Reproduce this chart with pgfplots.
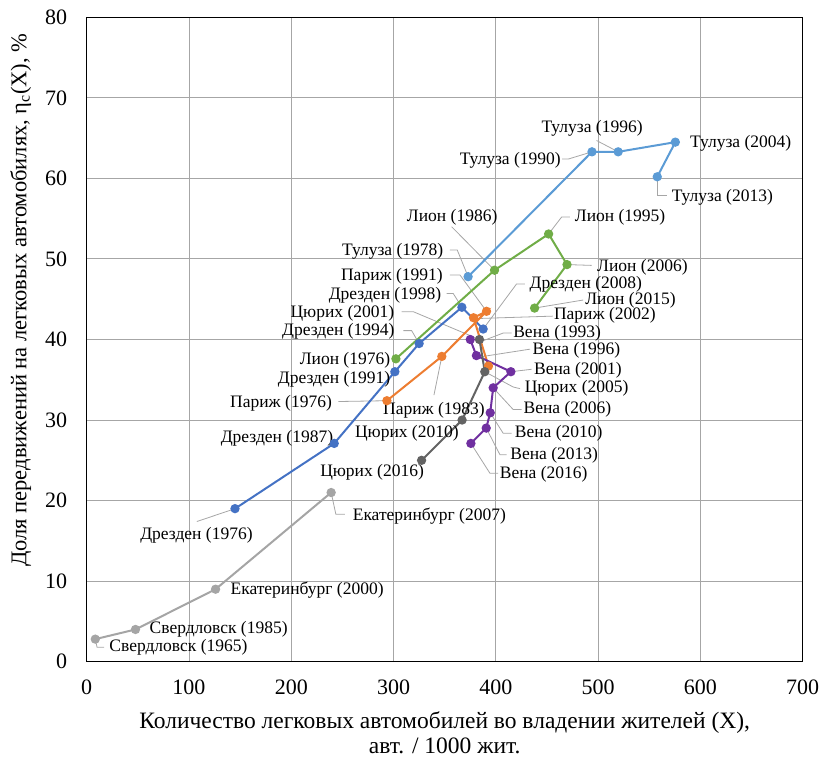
\documentclass[border=0pt]{standalone}
\usepackage{fontspec}
\setmainfont{Liberation Serif}
\usepackage{pgfplots}
\pgfplotsset{compat=1.18}
\definecolor{cDr}{HTML}{4472C4}
\definecolor{cTu}{HTML}{5B9BD5}
\definecolor{cLy}{HTML}{70AD47}
\definecolor{cPa}{HTML}{ED7D31}
\definecolor{cZu}{HTML}{636363}
\definecolor{cVi}{HTML}{7030A0}
\definecolor{cEk}{HTML}{A5A5A5}
\definecolor{cGrid}{HTML}{A6A6A6}
\definecolor{cLead}{HTML}{A6A6A6}
\tikzset{
  lbl/.style={font=\fontsize{17.5}{20}\selectfont, inner sep=0pt, anchor=center, text=black},
  leader/.style={cLead, line width=0.8pt},
}
\begin{document}
\begin{tikzpicture}
\useasboundingbox (-86.7pt,-97.3pt) rectangle (735.3pt,661.7pt);
\begin{axis}[
  scale only axis, width=716pt, height=644.4pt,
  xmin=0, xmax=700, ymin=0, ymax=80,
  xtick distance=100, ytick distance=10,
  grid=major, major grid style={cGrid, line width=0.9pt},
  axis line style={black, line width=1pt},
  tick style={draw=none},
  /pgf/number format/assume math mode=true,
  ticklabel style={font=\fontsize{22}{26}\selectfont},
  xticklabel style={yshift=-15pt},
  yticklabel style={xshift=-16pt},
  xlabel={Количество легковых автомобилей во владении жителей (X),\\авт. / 1000 жит.},
  xlabel style={at={(axis description cs:0.5,0)}, anchor=center, yshift=-71.5pt, align=center, font=\fontsize{23.5}{25}\selectfont},
  ylabel={Доля передвижений на легковых автомобилях, η\textsubscript{c}(X), \%},
  ylabel style={at={(axis description cs:-0.092,0.561)}, anchor=center, font=\fontsize{22.5}{25}\selectfont},
  every axis plot/.append style={line width=2pt, mark=*, mark size=3.6pt},
]
% leader lines
\draw[leader] (axis cs:498.5,64.7) -- (axis cs:519.6,63.3);
\draw[leader] (axis cs:464.9,62.4) -- (axis cs:470.8,62.4) -- (axis cs:494,63.3);
\draw[leader] (axis cs:557.8,60.2) -- (axis cs:557.8,57.9) -- (axis cs:567,57.9);
\draw[leader] (axis cs:451.6,53.1) -- (axis cs:464.3,55.2) -- (axis cs:472.4,55.2);
\draw[leader] (axis cs:356.8,54.0) -- (axis cs:398.7,48.6);
\draw[leader] (axis cs:355.1,51.1) -- (axis cs:362.3,51.1) -- (axis cs:372.9,47.8);
\draw[leader] (axis cs:469.6,49.3) -- (axis cs:493.6,49.2);
\draw[leader] (axis cs:355.1,48.0) -- (axis cs:365,48.0) -- (axis cs:390.9,43.5);
\draw[leader] (axis cs:428.5,46.9) -- (axis cs:420.3,46.9) -- (axis cs:387.6,41.3);
\draw[leader] (axis cs:351.9,45.7) -- (axis cs:358.4,45.7) -- (axis cs:366.8,44.0);
\draw[leader] (axis cs:485.4,44.9) -- (axis cs:437.9,43.9);
\draw[leader] (axis cs:307.9,43.45) -- (axis cs:319.3,43.45) -- (axis cs:381.2,40.15);
\draw[leader] (axis cs:455.5,42.9) -- (axis cs:381.2,42.6);
\draw[leader] (axis cs:309.5,41.1) -- (axis cs:317.7,41.1) -- (axis cs:325,39.5);
\draw[leader] (axis cs:415.4,40.8) -- (axis cs:407.2,40.8) -- (axis cs:384.5,39.7);
\draw[leader] (axis cs:433.4,38.8) -- (axis cs:387.7,37.9);
\draw[leader] (axis cs:435,36.3) -- (axis cs:414.7,36.0);
\draw[leader] (axis cs:296.5,35.8) -- (axis cs:301.3,36.0);
\draw[leader] (axis cs:423.6,33.9) -- (axis cs:417,34.1) -- (axis cs:389.2,36.0);
\draw[leader] (axis cs:246,32.3) -- (axis cs:293.5,32.4);
\draw[leader] (axis cs:425.2,31.3) -- (axis cs:417,31.3) -- (axis cs:397.4,34.0);
\draw[leader] (axis cs:339.5,33.1) -- (axis cs:347.2,37.9);
\draw[leader] (axis cs:415.4,28.35) -- (axis cs:407.2,28.35) -- (axis cs:394.5,30.9);
\draw[leader] (axis cs:410.6,25.7) -- (axis cs:404,25.7) -- (axis cs:390.6,29.0);
\draw[leader] (axis cs:402.3,23.4) -- (axis cs:394.2,23.4) -- (axis cs:375.6,27.1);
\draw[leader] (axis cs:107.7,17.4) -- (axis cs:145,19.0);
\draw[leader] (axis cs:239,21.0) -- (axis cs:243.6,18.3) -- (axis cs:252.3,18.3);
\draw[leader] (axis cs:8.4,2.8) -- (axis cs:10.1,1.8) -- (axis cs:17.1,1.8);
% series
\addplot[color=cEk] coordinates {(8.4,2.8) (47.7,4.0) (126,9.0) (239,21.0)};
\addplot[color=cDr] coordinates {(145,19.0) (242,27.1) (301.3,36.0) (325,39.5) (366.8,44.0) (387.6,41.3)};
\addplot[color=cLy] coordinates {(302.3,37.6) (398.7,48.6) (451.6,53.1) (469.6,49.3) (437.9,43.9)};
\addplot[color=cTu] coordinates {(372.9,47.8) (494,63.3) (519.6,63.3) (575.5,64.5) (557.8,60.2)};
\addplot[color=cPa] coordinates {(293.5,32.4) (347.2,37.9) (390.9,43.5) (378.2,42.7) (392.8,36.7)};
\addplot[color=cVi] coordinates {(375,40.0) (381,38.0) (414.7,36.0) (397.4,34.0) (394.5,30.9) (390.6,29.0) (375.6,27.1)};
\addplot[color=cZu] coordinates {(384,40.0) (389.2,36.0) (367,30.0) (327.4,25.0)};
% labels
\node[lbl] at (axis cs:494.1,66.2) {Тулуза (1996)};
\node[lbl] at (axis cs:414.1,62.2) {Тулуза (1990)};
\node[lbl] at (axis cs:639.4,64.4) {Тулуза (2004)};
\node[lbl] at (axis cs:621.5,57.7) {Тулуза (2013)};
\node[lbl] at (axis cs:521.5,55.2) {Лион (1995)};
\node[lbl] at (axis cs:357.3,55.2) {Лион (1986)};
\node[lbl] at (axis cs:299.2,50.9) {Тулуза (1978)};
\node[lbl] at (axis cs:543.3,49.0) {Лион (2006)};
\node[lbl] at (axis cs:298.4,47.8) {Париж (1991)};
\node[lbl] at (axis cs:487.9,46.9) {Дрезден (2008)};
\node[lbl] at (axis cs:291.6,45.5) {Дрезден (1998)};
\node[lbl] at (axis cs:531.6,44.9) {Лион (2015)};
\node[lbl] at (axis cs:250,43.3) {Цюрих (2001)};
\node[lbl] at (axis cs:506.6,43.0) {Париж (2002)};
\node[lbl] at (axis cs:246,41.0) {Дрезден (1994)};
\node[lbl] at (axis cs:459.9,40.8) {Вена (1993)};
\node[lbl] at (axis cs:252.5,37.45) {Лион (1976)};
\node[lbl] at (axis cs:478.8,38.6) {Вена (1996)};
\node[lbl] at (axis cs:480.3,36.2) {Вена (2001)};
\node[lbl] at (axis cs:241.8,35.1) {Дрезден (1991)};
\node[lbl] at (axis cs:479,33.9) {Цюрих (2005)};
\node[lbl] at (axis cs:190,32.1) {Париж (1976)};
\node[lbl] at (axis cs:470,31.3) {Вена (2006)};
\node[lbl] at (axis cs:339.5,31.2) {Париж (1983)};
\node[lbl] at (axis cs:313,28.4) {Цюрих (2010)};
\node[lbl] at (axis cs:186,27.7) {Дрезден (1987)};
\node[lbl] at (axis cs:461.4,28.35) {Вена (2010)};
\node[lbl] at (axis cs:457,25.6) {Вена (2013)};
\node[lbl] at (axis cs:446.8,23.3) {Вена (2016)};
\node[lbl] at (axis cs:279,23.55) {Цюрих (2016)};
\node[lbl] at (axis cs:107.3,15.7) {Дрезден (1976)};
\node[lbl] at (axis cs:335,18.1) {Екатеринбург (2007)};
\node[lbl] at (axis cs:215.5,8.9) {Екатеринбург (2000)};
\node[lbl] at (axis cs:129,4.05) {Свердловск (1985)};
\node[lbl] at (axis cs:89.7,1.8) {Свердловск (1965)};
\end{axis}
\end{tikzpicture}
\end{document}
